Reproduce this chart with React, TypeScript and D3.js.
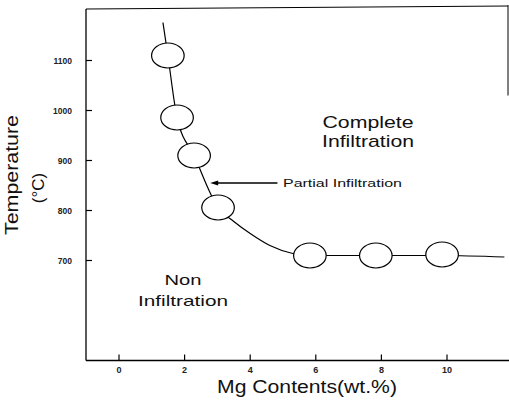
import React from "react";
import * as d3 from "d3";

const W = 509;
const H = 405;

// Ellipse (measurement) points: Mg content (wt.%) vs temperature (°C)
const markerMg = [1.49, 1.77, 2.29, 3.02, 5.82, 7.83, 9.85];
const markerTemp = [1110, 986, 910, 806, 710, 710, 712];

// Boundary curve points
const curveMg = [1.34, 1.49, 1.77, 2.29, 3.02, 3.5, 4.0, 4.6, 5.3, 5.82, 7.83, 9.85, 11.75];
const curveTemp = [1176, 1110, 986, 910, 806, 778, 754, 730, 714, 710, 710, 710, 707];

const xTicks = [0, 2, 4, 6, 8, 10];
const yTicks = [700, 800, 900, 1000, 1100];

const FONT = "'Liberation Sans', Arial, Helvetica, sans-serif";

export default function App() {
  const x = d3.scaleLinear().domain([-1.006, 11.86]).range([86, 508]);
  const y = d3.scaleLinear().domain([500, 1203]).range([360.5, 9]);

  const pts = curveMg.map((m, i) => [m, curveTemp[i]] as [number, number]);
  const line = d3
    .line<[number, number]>()
    .x((d) => x(d[0]))
    .y((d) => y(d[1]))
    .curve(d3.curveMonotoneX);

  const x0 = x.range()[0];
  const x1 = x.range()[1];
  const yb = y.range()[0];
  const yt = y.range()[1];

  const arrowY = y(855);
  const arrowTip = x(2.78);
  const arrowStart = x(4.83);

  return (
    <svg
      width={W}
      height={H}
      style={{ position: "absolute", left: 0, top: 0, background: "#fff" }}
      fontFamily={FONT}
    >
      <rect x={0} y={0} width={W} height={H} fill="#fff" />
      {/* frame */}
      <line x1={x0} y1={yt} x2={x0} y2={yb} stroke="#000" strokeWidth={1.3} />
      <line x1={x0} y1={yb} x2={x1 + 1} y2={yb} stroke="#000" strokeWidth={1.3} />
      <line x1={x0} y1={yt} x2={x1} y2={yt - 3} stroke="#000" strokeWidth={1} />
      <line x1={x1} y1={yt - 4} x2={x1} y2={y(1030)} stroke="#000" strokeWidth={1} />

      {/* y ticks */}
      {yTicks.map((t) => (
        <g key={"y" + t}>
          <line x1={x0} y1={y(t)} x2={x0 + 6} y2={y(t)} stroke="#000" strokeWidth={1.2} />
          <text
            x={72}
            y={y(t) + 3}
            textAnchor="end"
            fontSize={8.5}
            fontWeight="bold"
            fill="#222"
          >
            {t}
          </text>
        </g>
      ))}

      {/* x ticks */}
      {xTicks.map((t) => (
        <g key={"x" + t}>
          <line x1={x(t)} y1={yb} x2={x(t)} y2={yb - 6} stroke="#000" strokeWidth={1.2} />
          <text
            x={x(t)}
            y={373}
            textAnchor="middle"
            fontSize={9}
            fontWeight="bold"
            fill="#222"
          >
            {t}
          </text>
        </g>
      ))}

      {/* boundary curve */}
      <path d={line(pts) || ""} fill="none" stroke="#000" strokeWidth={1.2} />

      {/* markers */}
      {markerMg.map((m, i) => (
        <ellipse
          key={"m" + i}
          cx={x(m)}
          cy={y(markerTemp[i])}
          rx={16.3}
          ry={12.5}
          fill="#fff"
          stroke="#000"
          strokeWidth={1.2}
        />
      ))}

      {/* arrow */}
      <line x1={arrowStart} y1={arrowY} x2={arrowTip + 6} y2={arrowY} stroke="#000" strokeWidth={1.5} />
      <path
        d={`M${arrowTip},${arrowY} L${arrowTip + 8},${arrowY - 2.5} L${arrowTip + 8},${arrowY + 2.5} Z`}
        fill="#000"
      />
      <text x={283} y={187} fontSize={11.5} fill="#111" textLength={119} lengthAdjust="spacingAndGlyphs">
        Partial Infiltration
      </text>

      {/* region labels */}
      <text x={368} y={128} fontSize={17} textAnchor="middle" fill="#111" textLength={91} lengthAdjust="spacingAndGlyphs">
        Complete
      </text>
      <text x={368} y={147} fontSize={17} textAnchor="middle" fill="#111" textLength={92} lengthAdjust="spacingAndGlyphs">
        Infiltration
      </text>
      <text x={183} y={285} fontSize={15} textAnchor="middle" fill="#111" textLength={37} lengthAdjust="spacingAndGlyphs">
        Non
      </text>
      <text x={183} y={306} fontSize={15} textAnchor="middle" fill="#111" textLength={90} lengthAdjust="spacingAndGlyphs">
        Infiltration
      </text>

      {/* axis titles */}
      <text x={307} y={393} fontSize={18} textAnchor="middle" fill="#111" textLength={180} lengthAdjust="spacingAndGlyphs">
        Mg Contents(wt.%)
      </text>
      <text
        transform={`translate(18,175) rotate(-90)`}
        fontSize={18}
        textAnchor="middle"
        fill="#111"
        textLength={120}
        lengthAdjust="spacingAndGlyphs"
      >
        Temperature
      </text>
      <text
        transform={`translate(44,188) rotate(-90)`}
        fontSize={17}
        textAnchor="middle"
        fill="#111"
      >
        (°C)
      </text>
    </svg>
  );
}
